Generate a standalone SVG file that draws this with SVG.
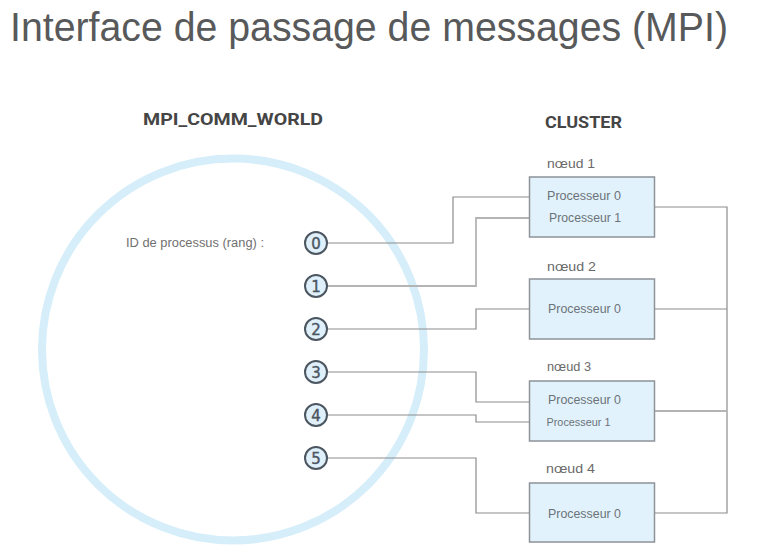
<svg xmlns="http://www.w3.org/2000/svg" width="781" height="559" viewBox="0 0 781 559">
<style>
.title{font-family:"Liberation Sans",Arial,sans-serif;font-size:40px;fill:#58595b}
.head{font-family:Roboto,"Liberation Sans",sans-serif;font-weight:bold;font-size:16px;fill:#454545}
.lbl{font-family:"Liberation Sans",Arial,sans-serif;font-size:12px;fill:#707070}
.node{font-family:"Liberation Sans",Arial,sans-serif;font-size:13.5px;fill:#6a6a6a}
.proc{font-family:"Liberation Sans",Arial,sans-serif;font-size:12px;fill:#6c7278}
.box{fill:#e1f2fc;stroke:#8d9398;stroke-width:1.5}
.rank circle{fill:#dff0fb;stroke:#4c5660;stroke-width:2}
.rank text{font-family:"DejaVu Sans",Verdana,sans-serif;font-size:15px;fill:#4c5660;stroke:#4c5660;stroke-width:0.4;text-anchor:middle}
.conn{fill:none;stroke:#8c8c8c;stroke-width:1.2}
</style>
<rect width="781" height="559" fill="#ffffff"/>
<text class="title" x="10" y="41" textLength="718" lengthAdjust="spacingAndGlyphs">Interface de passage de messages (MPI)</text>
<text class="head" x="143" y="125" textLength="180" lengthAdjust="spacingAndGlyphs">MPI_COMM_WORLD</text>
<text class="head" x="545" y="128" textLength="77" lengthAdjust="spacingAndGlyphs">CLUSTER</text>
<g id="world">
<circle cx="233" cy="349.5" r="191" fill="none" stroke="#d5eefa" stroke-width="8"/>
<text class="lbl" x="126" y="246.5" textLength="138" lengthAdjust="spacingAndGlyphs">ID de processus (rang) :</text>
</g>
<g id="connectors">
<polyline class="conn" points="327,243 453,243 453,197 530,197"/>
<polyline class="conn" points="327,286 476,286 476,218 530,218" style="stroke:#b4b4b4;stroke-width:1.8"/>
<polyline class="conn" points="327,329 476,329 476,309 530,309"/>
<polyline class="conn" points="327,372 476,372 476,402 530,402"/>
<polyline class="conn" points="327,415 476,415 476,422 530,422"/>
<polyline class="conn" points="327,458 476,458 476,513 530,513"/>
<polyline class="conn" points="655,207 727,207 727,513 655,513"/>
<line class="conn" x1="655" y1="309" x2="727" y2="309"/>
<line class="conn" x1="655" y1="411" x2="727" y2="411" style="stroke:#b4b4b4;stroke-width:1.8"/>
</g>
<g id="rank0" class="rank"><circle cx="316" cy="243" r="11"/><text x="316" y="248.5">0</text></g>
<g id="rank1" class="rank"><circle cx="316" cy="286" r="11"/><text x="316" y="291.5">1</text></g>
<g id="rank2" class="rank"><circle cx="316" cy="329" r="11"/><text x="316" y="334.5">2</text></g>
<g id="rank3" class="rank"><circle cx="316" cy="372" r="11"/><text x="316" y="377.5">3</text></g>
<g id="rank4" class="rank"><circle cx="316" cy="415" r="11"/><text x="316" y="420.5">4</text></g>
<g id="rank5" class="rank"><circle cx="316" cy="458" r="11"/><text x="316" y="463.5">5</text></g>
<g id="node1">
<text class="node" x="547" y="168" textLength="48" lengthAdjust="spacingAndGlyphs">nœud 1</text>
<rect class="box" x="529.5" y="177" width="125" height="60"/>
<text class="proc" x="547" y="200" textLength="74" lengthAdjust="spacingAndGlyphs">Processeur 0</text>
<text class="proc" x="549" y="222" textLength="72" lengthAdjust="spacingAndGlyphs">Processeur 1</text>
</g>
<g id="node2">
<text class="node" x="547" y="271" textLength="49" lengthAdjust="spacingAndGlyphs">nœud 2</text>
<rect class="box" x="529.5" y="279" width="125" height="60"/>
<text class="proc" x="548" y="313" textLength="73" lengthAdjust="spacingAndGlyphs">Processeur 0</text>
</g>
<g id="node3">
<text class="node" x="547" y="371" textLength="44" lengthAdjust="spacingAndGlyphs">nœud 3</text>
<rect class="box" x="529.5" y="381" width="125" height="60"/>
<text class="proc" x="548" y="404" textLength="73" lengthAdjust="spacingAndGlyphs">Processeur 0</text>
<text class="proc" x="546.5" y="426" textLength="64" lengthAdjust="spacingAndGlyphs" style="font-size:10.5px">Processeur 1</text>
</g>
<g id="node4">
<text class="node" x="546" y="473" textLength="49" lengthAdjust="spacingAndGlyphs">nœud 4</text>
<rect class="box" x="529.5" y="483" width="125" height="59"/>
<text class="proc" x="548" y="518" textLength="73" lengthAdjust="spacingAndGlyphs">Processeur 0</text>
</g>
</svg>
